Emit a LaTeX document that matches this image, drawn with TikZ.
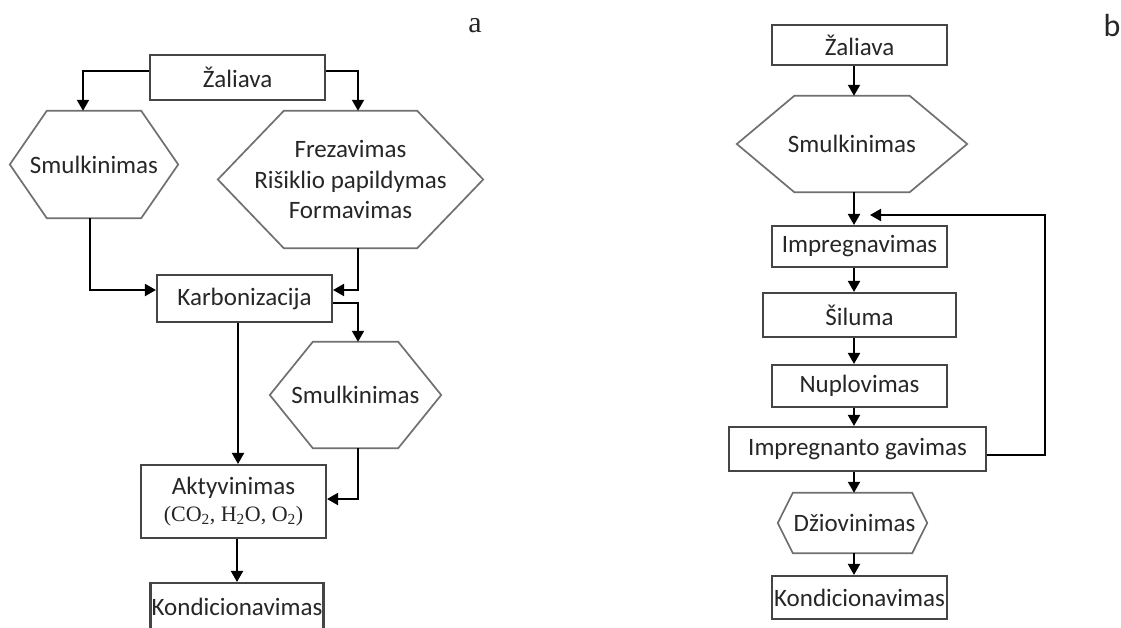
\documentclass[tikz,border=0pt]{standalone}
\usepackage{fontspec}
\setmainfont{Carlito}
\newfontfamily\serifx{Liberation Serif}
\usetikzlibrary{arrows.meta,calc}
\definecolor{txt}{HTML}{262626}
\definecolor{boxline}{HTML}{454545}
\definecolor{hexline}{HTML}{707070}
\tikzset{
  box/.style={draw=boxline,line width=2.1pt,fill=white,inner sep=0pt,text=txt,font=\fontsize{25}{30}\selectfont,align=center},
  hexnode/.style={inner sep=0pt,text=txt,font=\fontsize{25}{30.5}\selectfont,align=center},
  hexpath/.style={draw=hexline,line width=1.7pt},
  arr/.style={draw=black,line width=2pt,-{Triangle[width=12pt,length=11pt]}},
  lab/.style={inner sep=0pt,text=txt,font=\fontsize{32}{34}\selectfont}
}
\newcommand{\hexdraw}[2]{%
  \draw[hexpath] ($(#1.north west)+(#2,0)$) -- ($(#1.north east)+(-#2,0)$) -- (#1.east) -- ($(#1.south east)+(-#2,0)$) -- ($(#1.south west)+(#2,0)$) -- (#1.west) -- cycle;}
\begin{document}
\begin{tikzpicture}[x=1pt,y=-1pt]
\useasboundingbox (0,0) rectangle (1121,627);
\fill[white] (0,0) rectangle (1121,627);
% ---------- a ----------
\node[lab,font=\serifx\fontsize{30}{32}\selectfont,anchor=base] (la) at (475,32) {a};
\node[box,minimum width=175pt,minimum height=45pt] (zal) at (237.5,77.5) {Žaliava};
\node[hexnode,minimum width=168pt,minimum height=107pt] (lh) at (94,164.5) {Smulkinimas};
\hexdraw{lh}{37}
\node[hexnode,minimum width=265pt,minimum height=137pt] (rh) at (350.5,179.5) {Frezavimas\\ Rišiklio papildymas\\ Formavimas};
\hexdraw{rh}{66}
\node[box,minimum width=175pt,minimum height=47pt] (kar) at (244.5,298.5) {Karbonizacija};
\node[hexnode,minimum width=171pt,minimum height=106pt] (sh) at (355.5,395) {Smulkinimas};
\hexdraw{sh}{43}
\node[box,minimum width=185pt,minimum height=73pt] (akt) at (233.5,501.5) {Aktyvinimas\\[-3pt]{\serifx\fontsize{22}{26}\selectfont (CO\textsubscript{2}, H\textsubscript{2}O, O\textsubscript{2})}};
\node[box,minimum width=173pt,minimum height=48pt,inner xsep=0pt] (kond) at (237,607) {\raisebox{-4pt}{Kondicionavimas}};

\draw[arr] ([yshift=6.5pt]zal.west) -| ([xshift=-11pt]lh.north);
\draw[arr] ([yshift=6.5pt]zal.east) -| ([xshift=7.5pt]rh.north);
\draw[arr] ([xshift=-4pt]lh.south) |- ([yshift=8.5pt]kar.west);
\draw[arr] ([xshift=7.5pt]rh.south) |- ([yshift=8.5pt]kar.east);
\draw[arr] ([yshift=-4.5pt]kar.east) -| ([xshift=2.5pt]sh.north);
\draw[arr] ([xshift=-6.5pt]kar.south) -- ([xshift=-6.5pt]kar.south |- akt.north);
\draw[arr] ([xshift=2.5pt]sh.south) |- ([yshift=2.5pt]akt.east);
\draw[arr] (akt.south -| kond.north) -- (kond.north);
% ---------- b ----------
\node[lab,anchor=base] (lb) at (1112,36) {b};
\coordinate (colb) at (854,0);
\node[box,minimum width=175pt,minimum height=40pt] (zal2) at (859.5,45) {Žaliava};
\node[hexnode,minimum width=230pt,minimum height=96pt] (hx2) at (852,144) {Smulkinimas};
\hexdraw{hx2}{57.5}
\node[box,minimum width=175pt,minimum height=41pt] (imp) at (859.5,246.5) {Impregnavimas};
\node[box,minimum width=193pt,minimum height=44pt] (sil) at (859.5,315) {Šiluma};
\node[box,minimum width=175pt,minimum height=42pt] (nup) at (859.5,386) {Nuplovimas};
\node[box,minimum width=257pt,minimum height=44pt] (ig) at (857.5,449) {\raisebox{2pt}{Impregnanto gavimas}};
\node[hexnode,minimum width=149pt,minimum height=60pt] (dz) at (852.5,523) {\hspace*{4pt}Džiovinimas};
\hexdraw{dz}{15}
\node[box,minimum width=175pt,minimum height=43pt] (kond2) at (859.5,597.5) {Kondicionavimas};
\coordinate (fbc) at (1045,215);
\coordinate (fbt) at (870,215);

\draw[arr] (zal2.south -| colb) -- (hx2.north -| colb);
\draw[arr] (hx2.south -| colb) -- (imp.north -| colb);
\draw[arr] (imp.south -| colb) -- (sil.north -| colb);
\draw[arr] (sil.south -| colb) -- (nup.north -| colb);
\draw[arr] (nup.south -| colb) -- (ig.north -| colb);
\draw[arr] (ig.south -| colb) -- (dz.north -| colb);
\draw[arr] (dz.south -| colb) -- (kond2.north -| colb);
\draw[arr] ([yshift=-6pt]ig.east) -| (fbc) -- (fbt);
\end{tikzpicture}
\end{document}
